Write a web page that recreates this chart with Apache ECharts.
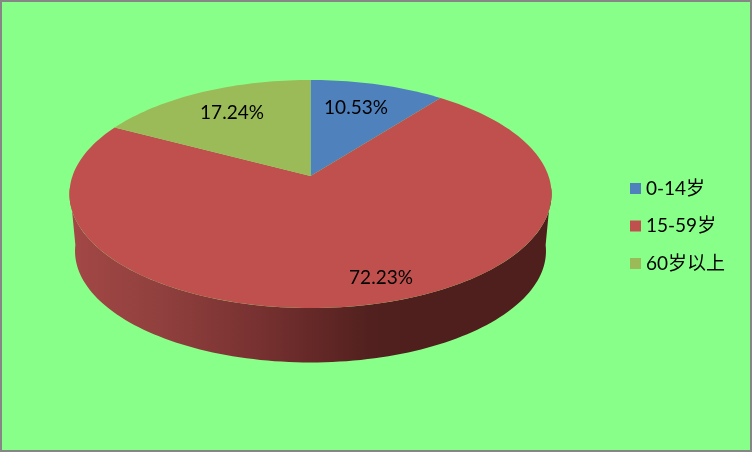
<!DOCTYPE html>
<html>
<head>
<meta charset="utf-8">
<style>html,body{margin:0;padding:0;overflow:hidden;background:#88ff88}#c{width:752px;height:452px}</style>
<script src="https://cdn.jsdelivr.net/npm/echarts@6/dist/echarts.min.js"></script>
</head>
<body>
<div id="c"></div>
<script>
const categories = ['0-14岁', '15-59岁', '60岁以上'];
const shares = [10.53, 72.23, 17.24];
const sliceColors = ['#4f81bd', '#c0504d', '#9bbb59'];
const wallStops = [
  [0, '#a34846'], [0.19, '#90403e'], [0.37, '#7a3332'], [0.5, '#662928'],
  [0.62, '#52211f'], [0.7, '#4e1f1d'], [1, '#4e1f1d']
];

// Projection of the tilted disc (circle centre -> apex, with perspective).
const view = { cx: 310.5, cy: 176, a: 238, b: 111.2, k: -0.158, wallScale: 0.977, wallDrop: 57, pivotY: 194 };
const labelAnchors = [[356, 108], [381, 278], [232, 113]];

function project(deg) {
  const t = deg * Math.PI / 180;
  const x = Math.sin(t), y = -Math.cos(t);
  const d = 1 + view.k * y;
  return [view.cx + view.a * x / d, view.cy + view.b * y / d];
}
function lower(p) {
  return [view.cx + (p[0] - view.cx) * view.wallScale,
          view.pivotY + (p[1] - view.pivotY) * view.wallScale + view.wallDrop];
}
function arc(from, to) {
  const pts = [], n = Math.max(2, Math.ceil(Math.abs(to - from) / 1.5));
  for (let i = 0; i <= n; i++) pts.push(project(from + (to - from) * i / n));
  return pts;
}
const total = shares.reduce((s, v) => s + v, 0);
const wallFrom = 96, wallTo = 264;

function sliceRenderer(index) {
  return function (params, api) {
    const before = shares.slice(0, index).reduce((s, v) => s + v, 0);
    const start = before / total * 360;
    const end = start + api.value(0) / total * 360;
    const children = [];
    const wa = Math.max(start, wallFrom), wb = Math.min(end, wallTo);
    if (wb > wa) {
      const top = arc(wa, wb);
      children.push({
        type: 'polygon', silent: true,
        shape: { points: top.concat(top.map(lower).reverse()) },
        style: { fill: new echarts.graphic.LinearGradient(69, 0, 552, 0,
          wallStops.map(s => ({ offset: s[0], color: s[1] })), true) }
      });
    }
    children.push({
      type: 'polygon', silent: true,
      shape: { points: [[view.cx, view.cy]].concat(arc(start, end)) },
      style: { fill: sliceColors[index] }
    });
    children.push({
      type: 'text', silent: true, z2: 10,
      style: {
        x: labelAnchors[index][0], y: labelAnchors[index][1],
        text: api.value(0).toFixed(2) + '%',
        align: 'center', verticalAlign: 'middle',
        fill: '#000', font: '19px Lato, "Noto Sans CJK SC", sans-serif'
      }
    });
    return { type: 'group', children };
  };
}

const chart = echarts.init(document.getElementById('c'), null, { renderer: 'canvas' });
chart.setOption({
  animation: false,
  backgroundColor: '#88ff88',
  legend: {
    orient: 'vertical', left: 630, top: 179,
    data: categories, icon: 'rect', itemWidth: 11, itemHeight: 11, itemGap: 18.5,
    selectedMode: false,
    textStyle: { color: '#000', fontSize: 19, fontFamily: 'Lato, "Noto Sans CJK SC", sans-serif' },
    padding: 0
  },
  graphic: [{
    type: 'rect', silent: true, z: -1,
    shape: { x: 1, y: 1, width: 750, height: 450 },
    style: { fill: 'none', stroke: '#868686', lineWidth: 2 }
  }],
  series: categories.map((name, i) => ({
    type: 'custom', name, coordinateSystem: 'none',
    itemStyle: { color: sliceColors[i] },
    data: [[shares[i]]],
    renderItem: sliceRenderer(i)
  }))
});
</script>
</body>
</html>
